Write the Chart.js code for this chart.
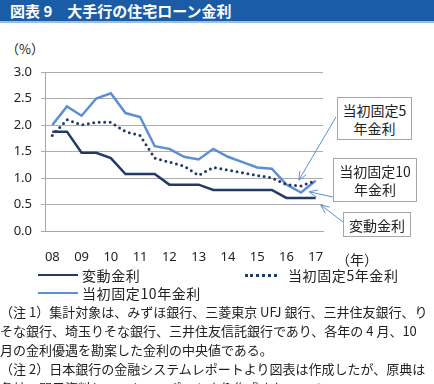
<!DOCTYPE html>
<html>
<head>
<meta charset="utf-8">
<script src="https://cdn.jsdelivr.net/npm/chart.js@4.4.0/dist/chart.umd.min.js"></script>
<style>
body { margin:0; width:434px; height:384px; overflow:hidden; background:#fff; position:relative;
  font-family:"Noto Sans CJK JP","Noto Sans",sans-serif; color:#222; }
#title { position:absolute; left:0; top:0; width:434px; height:21px; background:#1b5ca6;
  border-bottom:2px solid #9dbde3; color:#fff; font-weight:bold; font-size:15px; line-height:21px;
  padding-left:10px; box-sizing:content-box; white-space:pre; }
#wrap { position:absolute; left:0; top:0; width:434px; height:262px; }
.abs { position:absolute; white-space:nowrap; }
.box { position:absolute; background:#fff; border:1px solid #a6a6a6; font-size:14px; line-height:18px;
  text-align:center; box-sizing:border-box; display:flex; align-items:center; justify-content:center; }
.sw { position:absolute; width:40px; height:0; }
.lg { position:absolute; font-size:14px; letter-spacing:0.6px; line-height:18px; white-space:nowrap; }
#notes { position:absolute; left:0; top:302px; width:434px; font-size:13px; line-height:19px;
  white-space:nowrap; overflow:hidden; }
</style>
</head>
<body>
<div id="title">図表 9　大手行の住宅ローン金利</div>
<div class="abs" style="left:6px;top:39px;font-size:13px;">（%）</div>
<div id="wrap"><canvas id="myChart"></canvas></div>
<div class="abs" style="left:336px;top:249px;font-size:14px;">（年）</div>
<div id="legend"></div>
<div class="box" style="left:337px;top:97px;width:75px;height:43px;">当初固定5<br>年金利</div>
<div class="box" style="left:333px;top:158px;width:84px;height:44px;">当初固定10<br>年金利</div>
<div class="box" style="left:343px;top:212px;width:68px;height:25px;">変動金利</div>
<div id="notes">
（注 1）集計対象は、みずほ銀行、三菱東京 UFJ 銀行、三井住友銀行、り<br>
そな銀行、埼玉りそな銀行、三井住友信託銀行であり、各年の 4 月、10<br>
月の金利優遇を勘案した金利の中央値である。<br>
（注 2）日本銀行の金融システムレポートより図表は作成したが、原典は<br>
各社の開示資料とニッキンレポートより作成されている。
</div>
<script>
// half-year points, April and October, 2008.04 - 2017.04
const periods = ['08/4','08/10','09/4','09/10','10/4','10/10','11/4','11/10','12/4','12/10',
  '13/4','13/10','14/4','14/10','15/4','15/10','16/4','16/10','17/4'];
const yearLabels = ['08','09','10','11','12','13','14','15','16','17'];
const hendo = [1.875,1.875,1.475,1.475,1.375,1.075,1.075,1.075,0.875,0.875,
  0.875,0.775,0.775,0.775,0.775,0.775,0.625,0.625,0.625];
const kotei5 = [1.8,2.1,2.0,2.05,2.05,1.875,1.8,1.375,1.3,1.225,
  1.05,1.2,1.15,1.1,1.05,1.0,0.875,0.85,0.95];
const kotei10 = [2.0,2.35,2.175,2.5,2.6,2.225,2.15,1.6,1.55,1.4,
  1.35,1.55,1.4,1.3,1.2,1.175,0.875,0.725,0.95];
const yTicks = [0,0.5,1.0,1.5,2.0,2.5,3.0];

const navy = '#223a66';
const lightBlue = '#5b8fd4';

// arrows from the note boxes to the lines: [fromX, fromY, index, value]
const arrows = [
  [336, 117, 16.85, 0.96],
  [333, 197, 17.55, 0.74],
  [343, 222, 18.35, 0.49]
];

const arrowPlugin = {
  id: 'arrows',
  afterDatasetsDraw(chart) {
    const c = chart.ctx;
    const xs = chart.scales.x, ys = chart.scales.y;
    c.save();
    c.strokeStyle = lightBlue;
    c.lineWidth = 1;
    arrows.forEach(a => {
      const x1 = a[0], y1 = a[1];
      const x2 = xs.getPixelForValue(a[2]), y2 = ys.getPixelForValue(a[3]);
      const ang = Math.atan2(y2 - y1, x2 - x1);
      c.beginPath();
      c.moveTo(x1, y1);
      c.lineTo(x2, y2);
      c.moveTo(x2 - 9 * Math.cos(ang - 0.42), y2 - 9 * Math.sin(ang - 0.42));
      c.lineTo(x2, y2);
      c.lineTo(x2 - 9 * Math.cos(ang + 0.42), y2 - 9 * Math.sin(ang + 0.42));
      c.stroke();
    });
    c.restore();
  }
};

const ctx = document.getElementById('myChart').getContext('2d');
let myChart = new Chart(ctx, {
  type: 'line',
  data: {
    labels: periods,
    datasets: [{
      label: '変動金利',
      data: hendo,
      borderColor: navy,
      borderWidth: 2.5,
      pointRadius: 0
    }, {
      label: '当初固定5年金利',
      data: kotei5,
      borderColor: navy,
      borderWidth: 3,
      borderDash: [0, 5.5],
      borderCapStyle: 'round',
      pointRadius: 0
    }, {
      label: '当初固定10年金利',
      data: kotei10,
      borderColor: lightBlue,
      borderWidth: 2.5,
      pointRadius: 0
    }]
  },
  options: {
    responsive: true,
    maintainAspectRatio: false,
    animation: false,
    layout: { padding: { top: 72, left: 0, right: 111, bottom: 0 } },
    plugins: { legend: { display: false }, tooltip: { enabled: false } },
    scales: {
      x: {
        offset: true,
        grid: { display: false },
        border: { display: true, color: '#a6a6a6' },
        ticks: {
          autoSkip: false, maxRotation: 0, padding: 10,
          color: '#222', font: { size: 13, family: '"Noto Sans", sans-serif' },
          callback: function(v, i) {
            return i % 2 === 0 ? yearLabels[i / 2] : '';
          }
        },
        afterFit: function(s) { s.height = 31; }
      },
      y: {
        min: 0, max: 3,
        afterBuildTicks: function(s) { s.ticks = yTicks.map(v => ({ value: v })); },
        grid: { color: '#acacac', tickLength: 4 },
        border: { display: true, color: '#a6a6a6' },
        ticks: {
          padding: 9, color: '#222', font: { size: 13, family: '"Noto Sans", sans-serif' },
          callback: function(v) { return v.toFixed(1); }
        },
        afterFit: function(s) { s.width = 45; }
      }
    }
  },
  plugins: [arrowPlugin]
});

// legend in two columns, like the source
const legendPos = [[38, 266], [245, 266], [38, 284]];
const legendDiv = document.getElementById('legend');
myChart.data.datasets.forEach((ds, i) => {
  const p = legendPos[i];
  const sw = document.createElement('div');
  sw.className = 'sw';
  sw.style.left = p[0] + 'px';
  if (ds.borderDash) {
    sw.style.width = '32px';
    sw.style.borderTop = '3px dotted ' + ds.borderColor;
  } else {
    sw.style.borderTop = '2.5px solid ' + ds.borderColor;
  }
  sw.style.top = (p[1] + 8) + 'px';
  legendDiv.appendChild(sw);
  const t = document.createElement('div');
  t.className = 'lg';
  t.style.left = (p[0] + (ds.borderDash ? 43 : 44)) + 'px';
  t.style.top = p[1] + 'px';
  t.textContent = ds.label;
  legendDiv.appendChild(t);
});
</script>
</body>
</html>
